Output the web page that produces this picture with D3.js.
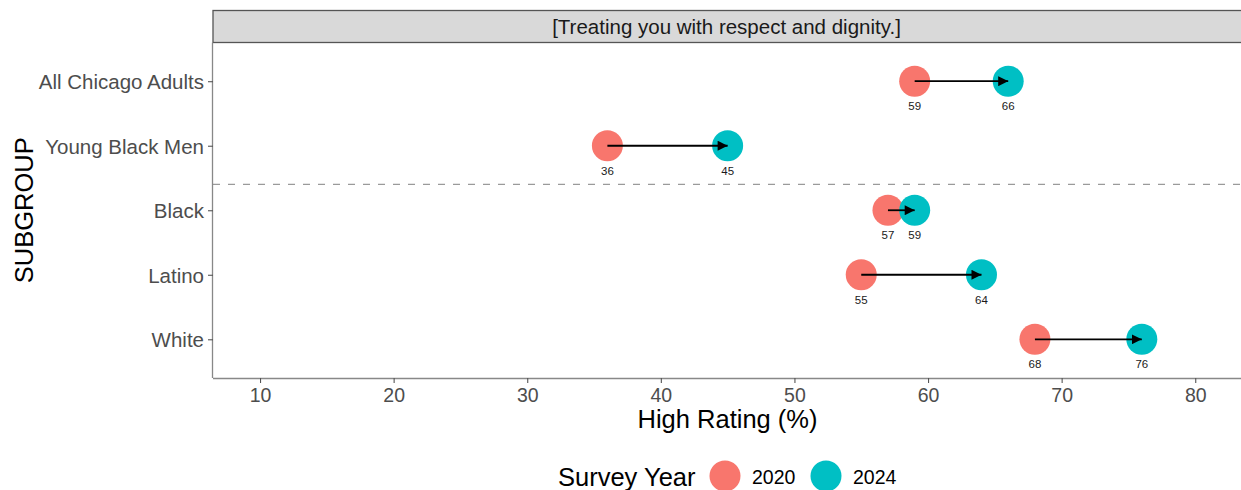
<!DOCTYPE html>
<html>
<head>
<meta charset="utf-8">
<script src="https://cdn.jsdelivr.net/npm/d3@7"></script>
<style>
  html, body { margin: 0; padding: 0; background: #fff; }
  svg text { font-family: "Liberation Sans", Arial, Helvetica, sans-serif; }
</style>
</head>
<body>
<svg id="chart" width="1241" height="490"></svg>
<script>
// ---- data ----
const categories = ["All Chicago Adults", "Young Black Men", "Black", "Latino", "White"];
const values2020 = [59, 36, 57, 55, 68];
const values2024 = [66, 45, 59, 64, 76];
const years = ["2020", "2024"];
const yearColors = ["#F8766D", "#00BFC4"];
const xTicks = [10, 20, 30, 40, 50, 60, 70, 80];
const facetTitle = "[Treating you with respect and dignity.]";
const xTitle = "High Rating (%)";
const yTitle = "SUBGROUP";
const legendTitle = "Survey Year";
const dividerAt = 3.4; // in ggplot y units (White = 1 ... All = 5)

// ---- layout ----
const svg = d3.select("#chart");
const P = { left: 213, right: 1240, top: 42.5, bottom: 378, stripTop: 10.5 };

const x = d3.scaleLinear().domain([6.48, 83.35]).range([P.left, P.right]);
const y = d3.scalePoint().domain(categories).range([P.top, P.bottom]).padding(0.6);
const yLin = d3.scaleLinear().domain([0.4, 5.6]).range([P.bottom, P.top]);

// strip
svg.append("rect")
  .attr("x", P.left).attr("y", P.stripTop)
  .attr("width", P.right - P.left + 2).attr("height", P.top - P.stripTop)
  .attr("fill", "#d9d9d9").attr("stroke", "#555").attr("stroke-width", 1.3);
svg.append("text")
  .attr("x", (P.left + P.right) / 2).attr("y", 33.5)
  .attr("text-anchor", "middle").attr("font-size", 20.5).attr("fill", "#1a1a1a")
  .text(facetTitle);

// divider
svg.append("line")
  .attr("x1", P.left).attr("x2", P.right + 1)
  .attr("y1", yLin(dividerAt)).attr("y2", yLin(dividerAt))
  .attr("stroke", "#9a9a9a").attr("stroke-width", 1.3).attr("stroke-dasharray", "7,8");

// axes
const xAxis = svg.append("g").attr("transform", `translate(0,${P.bottom})`)
  .call(d3.axisBottom(x).tickValues(xTicks).tickSize(5).tickSizeOuter(0).tickPadding(4));
const yAxis = svg.append("g").attr("transform", `translate(${P.left},0)`)
  .call(d3.axisLeft(y).tickSize(5).tickSizeOuter(0).tickPadding(4));
[xAxis, yAxis].forEach(g => {
  g.select(".domain").attr("stroke", "#888").attr("stroke-width", 1.3);
  g.selectAll(".tick line").attr("stroke", "#555").attr("stroke-width", 1.1);
  g.selectAll(".tick text").attr("fill", "#4d4d4d");
});
xAxis.select(".domain").attr("d", `M${P.left},0.5H${P.right + 1}`);
yAxis.select(".domain").attr("d", `M-0.5,${P.top}V${P.bottom}`);
xAxis.selectAll(".tick text").attr("font-size", 19.5).attr("y", 24).attr("dy", 0);
yAxis.selectAll(".tick text").attr("font-size", 20.5).attr("dy", "0.36em");

// arrow marker
svg.append("defs").append("marker")
  .attr("id", "arrow").attr("viewBox", "0 0 10 10")
  .attr("refX", 10).attr("refY", 5)
  .attr("markerWidth", 10.5).attr("markerHeight", 10)
  .attr("markerUnits", "userSpaceOnUse").attr("orient", "auto")
  .append("path").attr("d", "M0,0L10,5L0,10Z").attr("fill", "#000");

const rows = categories.map((c, i) => ({ cat: c, v0: values2020[i], v1: values2024[i] }));
const R = 15.5;

// points
[["v0", 0], ["v1", 1]].forEach(([key, k]) => {
  svg.append("g").selectAll("circle").data(rows).join("circle")
    .attr("cx", d => x(d[key])).attr("cy", d => y(d.cat)).attr("r", R)
    .attr("fill", yearColors[k]);
});

// arrows
svg.append("g").selectAll("line").data(rows).join("line")
  .attr("x1", d => x(d.v0)).attr("x2", d => x(d.v1))
  .attr("y1", d => y(d.cat)).attr("y2", d => y(d.cat))
  .attr("stroke", "#000").attr("stroke-width", 1.8)
  .attr("marker-end", "url(#arrow)");

// value labels
[["v0"], ["v1"]].forEach(([key]) => {
  svg.append("g").selectAll("text").data(rows).join("text")
    .attr("x", d => x(d[key])).attr("y", d => y(d.cat) + 29)
    .attr("text-anchor", "middle").attr("font-size", 11.5).attr("fill", "#1a1a1a")
    .text(d => d[key]);
});

// axis titles
svg.append("text")
  .attr("x", (P.left + P.right) / 2 + 1).attr("y", 428)
  .attr("text-anchor", "middle").attr("font-size", 25.5).attr("fill", "#000")
  .text(xTitle);
svg.append("text")
  .attr("transform", `translate(33,${(P.top + P.bottom) / 2}) rotate(-90)`)
  .attr("text-anchor", "middle").attr("font-size", 25.5).attr("fill", "#000")
  .text(yTitle);

// legend
const lg = svg.append("g");
lg.append("text").attr("x", 558).attr("y", 486).attr("font-size", 25.5).attr("fill", "#000").text(legendTitle);
const legendX = [725, 826];
years.forEach((yr, k) => {
  lg.append("circle").attr("cx", legendX[k]).attr("cy", 476).attr("r", R).attr("fill", yearColors[k]);
  lg.append("text").attr("x", legendX[k] + 27).attr("y", 484).attr("font-size", 19.5).attr("fill", "#000").text(yr);
});
</script>
</body>
</html>
